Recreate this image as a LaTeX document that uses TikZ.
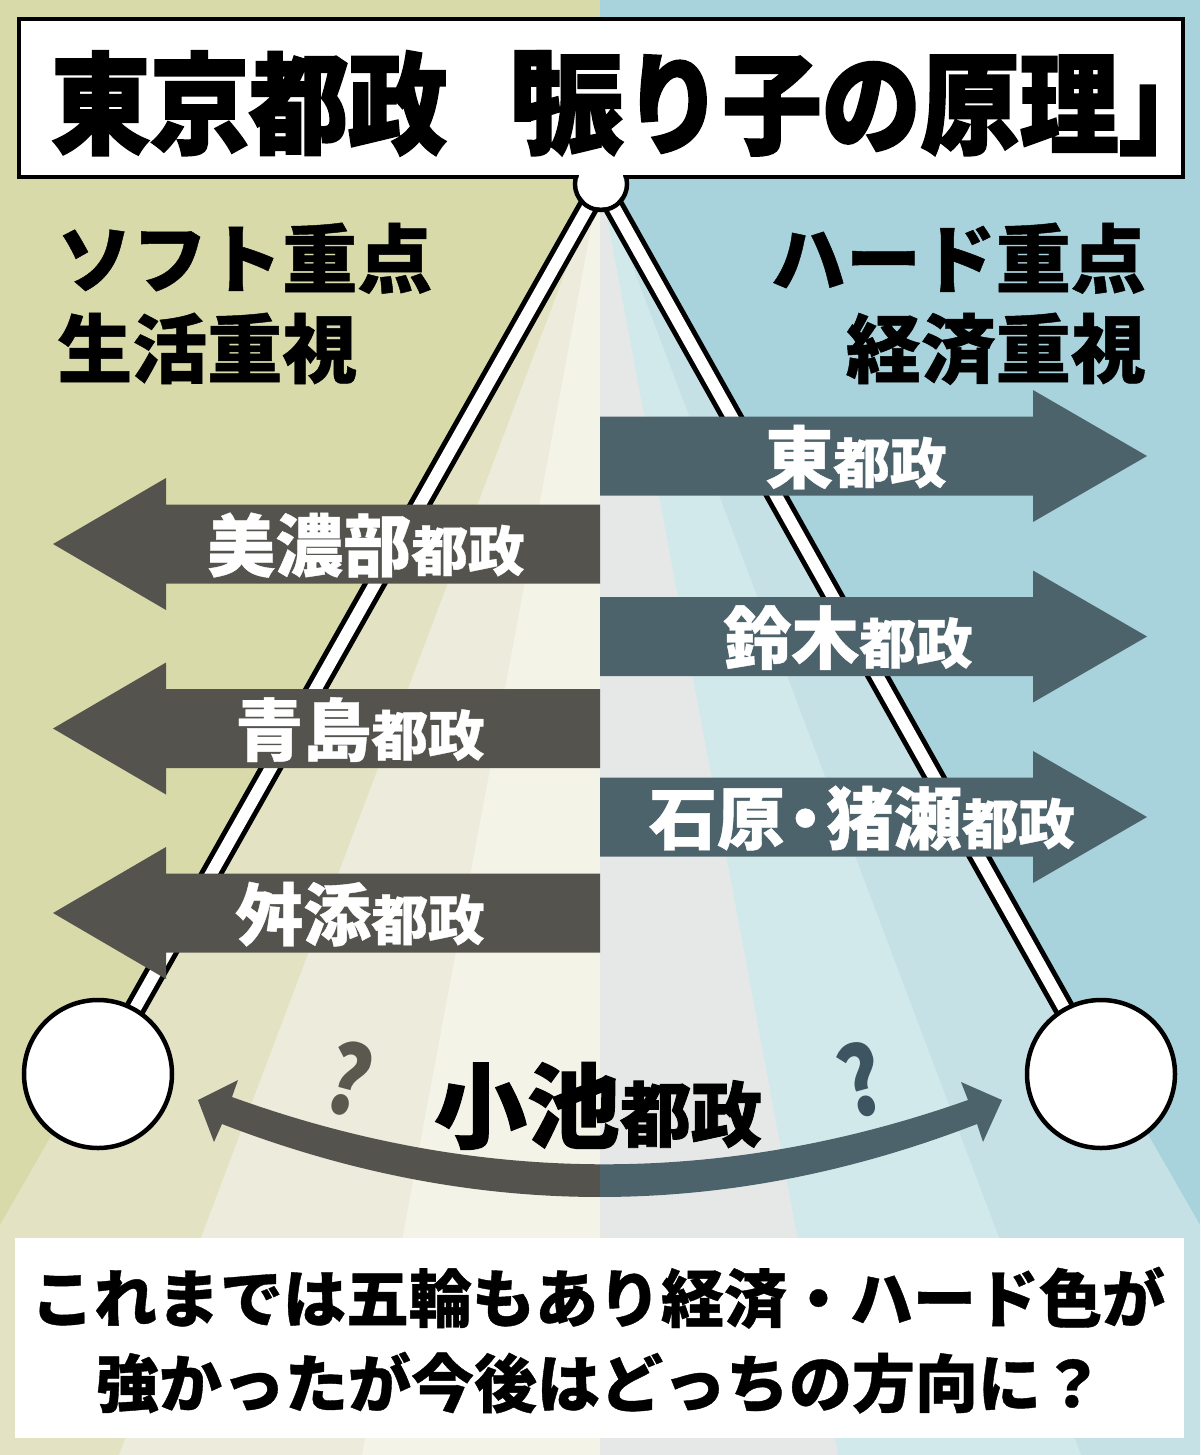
\documentclass[tikz,border=0pt]{standalone}
\usepackage{fontspec}
\setmainfont{Noto Sans CJK JP}
\definecolor{bgL}{HTML}{D9DAAA}
\definecolor{bgR}{HTML}{A8D3DC}
\definecolor{rLc}{HTML}{E3E3C4}
\definecolor{rLb}{HTML}{ECEBDC}
\definecolor{rLa}{HTML}{F4F3E7}
\definecolor{rRa}{HTML}{E6E8E8}
\definecolor{rRb}{HTML}{D2E9EC}
\definecolor{rRc}{HTML}{C6E1E5}
\definecolor{agray}{HTML}{55534E}
\definecolor{aslate}{HTML}{4D636C}
\definecolor{qgray}{HTML}{5B5850}
\definecolor{qslate}{HTML}{3C5560}
\newcommand\kbig[1]{{\fontsize{68}{68}\selectfont #1}}
\newcommand\ksml[1]{{\fontsize{54}{54}\selectfont\scalebox{1.05}[1]{#1}}}
\begin{document}
\begin{tikzpicture}[x=1pt,y=-1pt,
  lbl/.style={anchor=base, inner sep=0pt, font=\bfseries\addfontfeatures{FakeBold=0.6}, text=white},
  side/.style={inner sep=0pt, font=\bfseries\fontsize{75}{75}\selectfont\addfontfeatures{FakeBold=0.6}, text=black},
  bottxt/.style={anchor=base, inner sep=0pt, font=\bfseries\fontsize{63}{63}\selectfont\addfontfeatures{FakeBold=0.6}, text=black},
  bob/.style={circle, draw=black, line width=4.5pt, fill=white, minimum size=148pt, inner sep=0pt},
  qmark/.style={inner sep=0pt, font=\bfseries\fontsize{95}{95}\selectfont},
]
\useasboundingbox (0,0) rectangle (1200,1455);
% background
\begin{scope}
\clip (0,0) rectangle (1200,1455);
\fill[bgL] (0,0) rectangle (600,1455);
\fill[bgR] (600,0) rectangle (1200,1455);
\fill[rLc] (600,180) -- (-132,1455) -- (600,1455) -- cycle;
\fill[rLb] (600,180) -- (119,1455) -- (600,1455) -- cycle;
\fill[rLa] (600,180) -- (362,1455) -- (600,1455) -- cycle;
\fill[rRc] (600,180) -- (1332,1455) -- (600,1455) -- cycle;
\fill[rRb] (600,180) -- (1081,1455) -- (600,1455) -- cycle;
\fill[rRa] (600,180) -- (838,1455) -- (600,1455) -- cycle;
\end{scope}
% pendulum
\coordinate (piv) at (601,184);
\coordinate (bobL) at (98,1074);
\coordinate (bobR) at (1101,1074);
\draw[black, line width=22pt, line join=round] (bobL) -- (piv) -- (bobR);
\draw[white, line width=12pt, line join=round] (bobL) -- (piv) -- (bobR);
\node[bob] (bl) at (bobL) {};
\node[bob] (br) at (bobR) {};
\draw[black, line width=4.5pt] (piv) circle (26);
% title box
\node[draw=black, fill=white, line width=4pt, minimum width=1164pt, minimum height=158pt, inner sep=0pt, anchor=north west] (tbox) at (17,17) {};
\fill[white] (piv) circle (23.5);
\node[anchor=base west, inner sep=0pt, font=\bfseries\fontsize{110}{110}\selectfont\addfontfeatures{FakeBold=2,FakeStretch=0.9,RawFeature=+halt}] (title) at (51,145) {東京都政\kern55pt「\kern-27pt振り子の原理」};
% side texts
\node[side, anchor=base west] (s1) at (57,287) {ソフト重点};
\node[side, anchor=base west] (s2) at (57,377) {生活重視};
\node[side, anchor=base east] (h1) at (1146,287) {ハード重点};
\node[side, anchor=base east] (h2) at (1146,377) {経済重視};
% arrows
\foreach \c in {456,636.5,817}{
  \fill[aslate] (600,\c-39.5) -- (1033,\c-39.5) -- (1033,\c-66) -- (1147,\c) -- (1033,\c+66) -- (1033,\c+39.5) -- (600,\c+39.5) -- cycle;
}
\foreach \c in {544,728.5,913}{
  \fill[agray] (600,\c-39.5) -- (166,\c-39.5) -- (166,\c-66) -- (53,\c) -- (166,\c+66) -- (166,\c+39.5) -- (600,\c+39.5) -- cycle;
}
\node[lbl] (a1) at (856,483) {\kbig{東}\ksml{都政}};
\node[lbl] (a2) at (848,663.5) {\kbig{鈴木}\ksml{都政}};
\node[lbl] (a3) at (862,844) {\kbig{石原\kern-0.2em・\kern-0.2em猪瀬}\ksml{都政}};
\node[lbl] (b1) at (366,571) {\kbig{美濃部}\ksml{都政}};
\node[lbl] (b2) at (360,755.5) {\kbig{青島}\ksml{都政}};
\node[lbl] (b3) at (360,940) {\kbig{舛添}\ksml{都政}};
% curved double arrow
\begin{scope}
\clip (0,900) rectangle (600,1250);
\fill[agray] (198,1100) -- (238,1080) -- (232,1097) .. controls (477.3,1185.7) and (722.7,1186.7) .. (968,1100) -- (961,1082) -- (1002,1100) -- (983,1142) -- (977,1124) .. controls (725.7,1221.3) and (474,1221.3) .. (222,1124) -- (214,1142) -- cycle;
\end{scope}
\begin{scope}
\clip (600,900) rectangle (1200,1250);
\fill[aslate] (198,1100) -- (238,1080) -- (232,1097) .. controls (477.3,1185.7) and (722.7,1186.7) .. (968,1100) -- (961,1082) -- (1002,1100) -- (983,1142) -- (977,1124) .. controls (725.7,1221.3) and (474,1221.3) .. (222,1124) -- (214,1142) -- cycle;
\end{scope}
\node[qmark, text=qgray, rotate=-15] (q1) at (349,1079) {\scalebox{0.85}[1]{?}};
\node[qmark, text=qslate, rotate=15] (q2) at (861,1080) {\scalebox{0.85}[1]{?}};
\node[anchor=base, inner sep=0pt, font=\bfseries\addfontfeatures{FakeBold=1.2}] (koike) at (598,1141) {{\fontsize{93}{93}\selectfont 小池}{\fontsize{71}{71}\selectfont 都政}};
% bottom note
\node[fill=white, minimum width=1169pt, minimum height=200pt, inner sep=0pt, anchor=north west] (note) at (15,1238) {};
\node[bottxt] (n1) at (598,1322) {これまでは五輪もあり経済・ハード色が};
\node[bottxt] (n2) at (600,1407) {強かったが今後はどっちの方向に？};
\end{tikzpicture}
\end{document}
